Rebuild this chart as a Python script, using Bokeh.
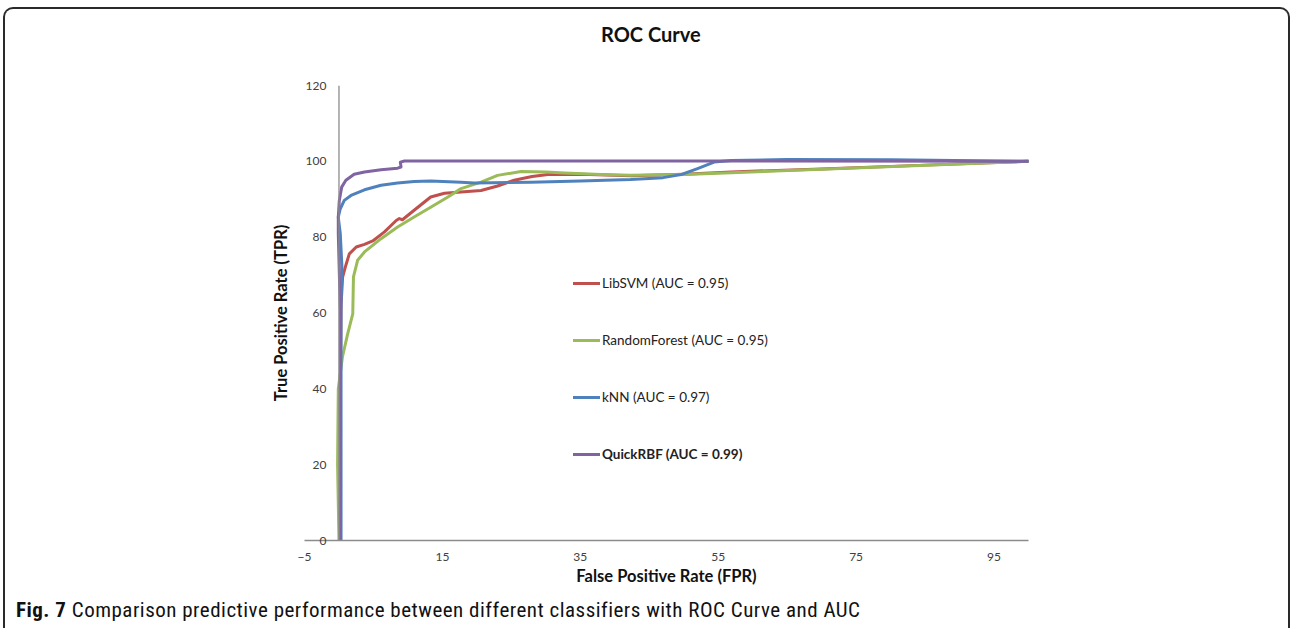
from bokeh.plotting import figure
from bokeh.models import Legend, LegendItem, Span, Range1d, FixedTicker, Div
from bokeh.layouts import column
from bokeh.embed import file_html
from bokeh.resources import INLINE

# ---------------- data ----------------
series_names = ["LibSVM", "RandomForest", "kNN", "QuickRBF"]
auc_values = [0.95, 0.95, 0.97, 0.99]
series_colors = ["#c0504d", "#9bbb59", "#4f81bd", "#8064a2"]

libsvm_fpr = [0.15, 0.2, 0.3, 0.53, 1.0, 1.5, 2.5, 3.7, 4.9, 6.6, 8.3, 8.75, 9.2, 10.9, 13.3, 15.3, 17.7,
              20.6, 23.0, 25.4, 28.0, 30.3, 35.1, 42.3, 50.0, 56.9, 70, 85, 100]
libsvm_tpr = [0, 40, 62, 69.5, 72.6, 75.6, 77.4, 78.1, 79.0, 81.4, 84.4, 84.9, 84.6, 87.1, 90.6, 91.6, 91.9,
              92.3, 93.5, 95.0, 96.0, 96.5, 96.6, 96.2, 96.6, 97.2, 98.0, 99.0, 100]

rf_fpr = [0, -0.2, -0.1, 0.5, 1.26, 2.0, 2.1, 2.7, 3.7, 6.1, 8.5, 10.9, 13.3, 15.8, 17.7,
          20.6, 23.0, 26.4, 30.0, 32.7, 38.0, 42.3, 50.0, 56.9, 100]
rf_tpr = [0, 20, 40, 48.4, 54.5, 59.8, 69.5, 73.9, 76.1, 79.6, 82.7, 85.3, 87.9, 90.6, 92.8,
          94.5, 96.3, 97.3, 97.2, 96.9, 96.5, 96.3, 96.5, 97.0, 100]

knn_fpr = [0.3, 0.3, 0.43, 0.19, -0.1, 0.19, 0.77, 1.74, 3.7, 6.1, 8.5, 10.9, 13.3, 17.7,
           19.6, 27.8, 35.0, 42.3, 47.0, 49.6, 52.0, 54.4, 56.9, 65, 80, 100]
knn_tpr = [0, 60.7, 72.1, 80.9, 85.3, 87.5, 89.7, 91.0, 92.5, 93.7, 94.3, 94.7, 94.8, 94.5,
           94.3, 94.5, 94.8, 95.2, 95.7, 96.5, 98.1, 99.8, 100.2, 100.5, 100.4, 100]

rbf_fpr = [0.2, 0.19, -0.1, -0.1, 0.05, 0.39, 1.0, 2.2, 3.7, 6.1, 8.5, 9.0, 8.9, 9.5, 20, 60, 100]
rbf_tpr = [0, 60.7, 80.9, 85.3, 89.7, 93.2, 95.0, 96.6, 97.2, 97.8, 98.2, 98.5, 99.8, 100.1, 100.1, 100.1, 100]

x_ticks = [-5, 15, 35, 55, 75, 95]
y_ticks = [0, 20, 40, 60, 80, 100, 120]

chart_title = "ROC Curve"
x_title = "False Positive Rate (FPR)"
y_title = "True Positive Rate (TPR)"
caption_bold = "Fig. 7"
caption_text = "Comparison predictive performance between different classifiers with ROC Curve and AUC"

# ---------------- figure ----------------
FONT = "Lato"
W, H = 1283, 540
p = figure(width=W, height=H, x_range=Range1d(-5, 100), y_range=Range1d(0, 120),
           output_backend="svg", toolbar_location=None,
           min_border_left=299, min_border_right=260, min_border_top=26, min_border_bottom=59)
p.outline_line_color = None
p.xgrid.visible = False
p.ygrid.visible = False
p.background_fill_color = "white"
p.border_fill_color = "white"

# x axis
xa = p.xaxis[0]
xa.ticker = FixedTicker(ticks=x_ticks)
xa.axis_line_color = "#8c8c8c"
xa.axis_line_width = 1.3
xa.major_tick_line_color = None
xa.minor_tick_line_color = None
xa.major_label_standoff = 6
xa.major_label_text_font = FONT
xa.major_label_text_font_size = "12px"
xa.major_label_text_color = "#404040"
xa.axis_label = x_title
xa.axis_label_text_font = FONT
xa.axis_label_text_font_size = "16.5px"
xa.axis_label_text_font_style = "bold"
xa.axis_label_text_color = "#111111"
xa.axis_label_standoff = 2

# y axis (labels drawn next to the x = 0 line)
ya = p.yaxis[0]
ya.ticker = FixedTicker(ticks=y_ticks)
ya.axis_line_color = None
ya.major_tick_line_color = None
ya.minor_tick_line_color = None
ya.major_label_standoff = -28
ya.major_label_text_font = FONT
ya.major_label_text_font_size = "12px"
ya.major_label_text_color = "#404040"
ya.axis_label = y_title
ya.axis_label_text_font = FONT
ya.axis_label_text_font_size = "16.5px"
ya.axis_label_text_font_style = "bold"
ya.axis_label_text_color = "#111111"
ya.axis_label_standoff = 12

p.add_layout(Span(location=0, dimension="height", line_color="#8c8c8c", line_width=1.3))

# curves
data = [(libsvm_fpr, libsvm_tpr), (rf_fpr, rf_tpr), (knn_fpr, knn_tpr), (rbf_fpr, rbf_tpr)]
renderers = []
for (xs, ys), c in zip(data, series_colors):
    r = p.line(xs, ys, line_color=c, line_width=3, line_join="round", line_cap="round")
    renderers.append(r)

labels = [f"{n} (AUC = {a:.2f})" for n, a in zip(series_names, auc_values)]

def make_legend(items, loc, style):
    lg = Legend(items=items, location=loc, orientation="vertical")
    lg.border_line_color = None
    lg.background_fill_alpha = 0
    lg.padding = 0
    lg.margin = 0
    lg.spacing = 37
    lg.glyph_width = 27
    lg.glyph_height = 20
    lg.label_height = 20
    lg.label_standoff = 2
    lg.label_text_font = FONT
    lg.label_text_font_size = "13.5px"
    lg.label_text_color = "#222222"
    lg.label_text_font_style = style
    return lg

leg1 = make_legend([LegendItem(label=labels[i], renderers=[renderers[i]]) for i in range(3)], (269, 133), "normal")
leg2 = make_legend([LegendItem(label=labels[3], renderers=[renderers[3]])], (269, 76), "bold")
p.add_layout(leg1)
p.add_layout(leg2)

title_div = Div(text=chart_title, width=W, height=50, margin=0,
                styles={"font-family": "Lato, sans-serif", "font-size": "20px", "font-weight": "bold",
                        "line-height": "50px", "padding-left": "596px", "color": "#111111",
                        "white-space": "nowrap"})

caption = Div(text=f"<b>{caption_bold}</b> {caption_text}", width=W, height=29, margin=0,
              styles={"font-family": "'Liberation Sans Narrow', 'Roboto Condensed', 'Open Sans', sans-serif",
                      "font-size": "21px", "line-height": "22px", "padding-left": "11px",
                      "letter-spacing": "0.5px",
                      "color": "#111111", "white-space": "nowrap"})

layout = column(title_div, p, caption, spacing=0, margin=(7, 0, 0, 3),
                styles={"border-top": "2px solid #2a2a2a", "border-left": "2px solid #2a2a2a",
                        "border-right": "2px solid #2a2a2a", "border-radius": "10px 10px 0 0",
                        "background-color": "white"})

open("out.html", "w").write(file_html(layout, INLINE))
